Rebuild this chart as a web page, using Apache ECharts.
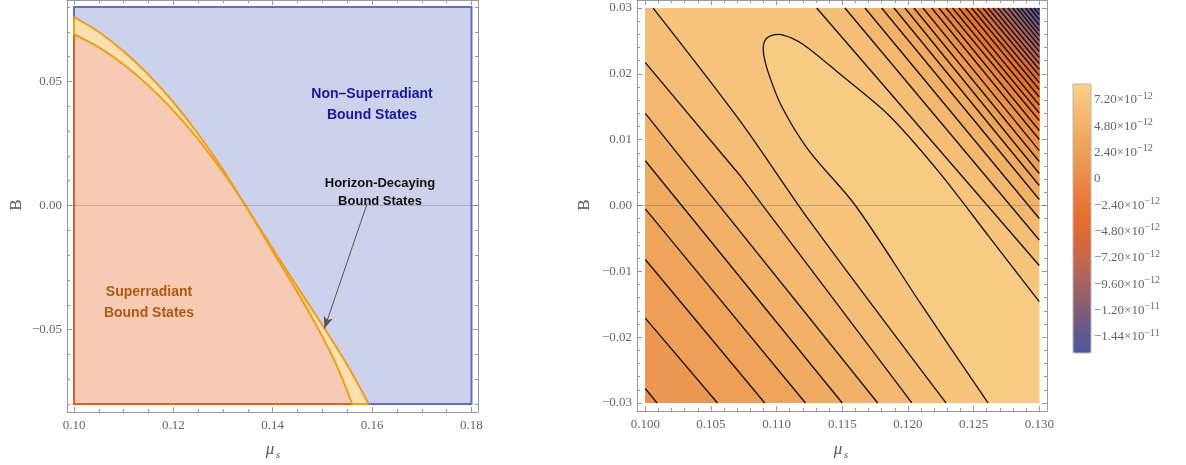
<!DOCTYPE html>
<html>
<head>
<meta charset="utf-8">
<script src="https://cdn.jsdelivr.net/npm/echarts@6/dist/echarts.min.js"></script>
<style>
html, body { margin: 0; padding: 0; background: #fff; }
#main { width: 1186px; height: 465px; }
</style>
</head>
<body>
<div id="main"></div>
<script>
// ---------- left panel : regions in the (mu_s, B) plane ----------
var regionX = [0.10, 0.18];
var regionY = [-0.08, 0.08];
// boundary of the horizon-decaying band (outer) and of the superradiant region (inner)
var outerCurve = [[0.100, 0.0760], [0.105, 0.0699], [0.110, 0.0621], [0.115, 0.0527], [0.120, 0.0416],
  [0.125, 0.0288], [0.130, 0.0144], [0.1345, 0.0], [0.1405, -0.0190], [0.1460, -0.0360],
  [0.1512, -0.0520], [0.1555, -0.0660], [0.1593, -0.0800]];
var innerCurve = [[0.100, 0.0690], [0.105, 0.0637], [0.110, 0.0568], [0.115, 0.0483], [0.120, 0.0382],
  [0.125, 0.0266], [0.130, 0.0133], [0.1345, 0.0], [0.1400, -0.0185], [0.1450, -0.0350],
  [0.1495, -0.0510], [0.1530, -0.0650], [0.1560, -0.0800]];
var arrowFrom = [0.1590, 0.0008];
var arrowTo = [0.1504, -0.0496];

var leftXTicks = [0.10, 0.12, 0.14, 0.16, 0.18];
var leftYTicks = [-0.05, 0.00, 0.05];

// ---------- right panel : contour plot ----------
var plotX = [0.100, 0.130];
var plotY = [-0.030, 0.030];
// the U shaped contour around the maximum
var uContour = [[0.1261, -0.030], [0.1210, -0.0150], [0.1160, 0.0], [0.1124, 0.0085], [0.1104, 0.0150],
  [0.1094, 0.0200], [0.1090, 0.0232], [0.1091, 0.0250], [0.1096, 0.0258], [0.1105, 0.0259],
  [0.1120, 0.0245], [0.1148, 0.0200], [0.1186, 0.0136], [0.1224, 0.0050], [0.1262, -0.0048],
  [0.1300, -0.0146]];
// contours on the lower-left side, from the ridge outwards
var lowerContours = [
  [[0.1006, 0.030], [0.1072, 0.0129], [0.1125, -0.0023], [0.1229, -0.030]],
  [[0.100, 0.0217], [0.1072, 0.0046], [0.1203, -0.030]],
  [[0.100, 0.0140], [0.1177, -0.030]],
  [[0.100, 0.0068], [0.1150, -0.030]],
  [[0.100, -0.0005], [0.1122, -0.030]],
  [[0.100, -0.0082], [0.1091, -0.030]],
  [[0.100, -0.0171], [0.1055, -0.030]],
  [[0.100, -0.0278], [0.1009, -0.030]]
];
// contours on the upper-right side: where they cut the top edge and the right edge
var upperTopX = [0.11305, 0.11520, 0.11673, 0.11800, 0.11894, 0.11977, 0.12046, 0.12114, 0.12181, 0.12236,
  0.12290, 0.12340, 0.12388, 0.12440, 0.12485, 0.12526, 0.12571, 0.12609, 0.12647, 0.12685,
  0.12723, 0.12761, 0.12797, 0.12830, 0.12860, 0.12896, 0.12929, 0.12960, 0.12990];
var upperRightB = [-0.00911, -0.00524, -0.00197, 0.00091, 0.00304, 0.00486, 0.00668, 0.00835, 0.01003, 0.01139,
  0.01291, 0.01405, 0.01527, 0.01648, 0.01762, 0.01868, 0.01975, 0.02066, 0.02157, 0.02248,
  0.02339, 0.02423, 0.02506, 0.02582, 0.02658, 0.02742, 0.02825, 0.02901, 0.02977];

// band values, in units of 1e-12
var baseBand = 7.2;
var uBand = 8.0;
var lowerBands = [6.4, 5.6, 4.8, 4.0, 3.2, 2.4, 1.6, 0.8];
var upperBands = [6.4, 5.6, 4.8, 4.0, 3.2, 2.4, 1.6, 0.8, 0.0, -0.8, -1.6, -2.4, -3.2, -4.0, -4.8,
  -5.6, -6.4, -7.2, -8.0, -8.8, -9.6, -10.4, -11.2, -12.0, -12.8, -13.6, -14.4, -15.2, -15.8];

var rightXTicks = [0.100, 0.105, 0.110, 0.115, 0.120, 0.125, 0.130];
var rightYTicks = [-0.03, -0.02, -0.01, 0.00, 0.01, 0.02, 0.03];

// colour legend (units of 1e-12)
var legendRange = [-15.86, 8.66];
var legendTicks = [7.2, 4.8, 2.4, 0, -2.4, -4.8, -7.2, -9.6, -12, -14.4];
var legendColors = ['#4a58a0', '#6a5a84', '#8f606a', '#b5655a', '#d4683c', '#e46f2f',
  '#ea8040', '#ed9650', '#f0a860', '#f4bc74', '#f8d088'];

// ------------------------------------------------------------------
var FRAME = '#9a9a9a';
var TICKTXT = '#666';
var ORANGE = '#ee9e1c';

function minorsOf(from, to, step, majors) {
  var out = [];
  var n = Math.round((to - from) / step);
  for (var i = 0; i <= n; i++) {
    var v = +(from + i * step).toFixed(6);
    var isMajor = majors.some(function (m) { return Math.abs(m - v) < 1e-9; });
    if (!isMajor) out.push(v);
  }
  return out;
}

function minusFmt(d) {
  return function (v) { return v.toFixed(d).replace('-', '\u2212'); };
}

function frameAxes(grid, isX, min, max, majors, minors, fmt) {
  var sides = isX ? ['bottom', 'top'] : ['left', 'right'];
  function ax(side, list, len, line, labels) {
    return {
      type: 'value', gridIndex: grid, min: min, max: max, position: side,
      axisLine: { show: line, onZero: false, lineStyle: { color: FRAME, width: 1 } },
      axisTick: { show: true, inside: true, length: len, customValues: list, lineStyle: { color: FRAME, width: 1 } },
      axisLabel: labels ? {
        show: true, customValues: list, formatter: fmt, margin: isX ? 7 : 5,
        color: TICKTXT, fontFamily: 'Liberation Serif', fontSize: 13
      } : { show: false },
      splitLine: { show: false }
    };
  }
  return [
    ax(sides[0], majors, 5, true, true),
    ax(sides[0], minors, 3, false, false),
    ax(sides[1], majors, 5, true, false),
    ax(sides[1], minors, 3, false, false)
  ];
}

// perimeter walk so a contour line can be closed into the region on one side of it
function perim(p) {
  var x = p[0], y = p[1], e = 1e-9;
  if (Math.abs(y - plotY[1]) < e) return (x - plotX[0]) / (plotX[1] - plotX[0]);
  if (Math.abs(x - plotX[1]) < e) return 1 + (plotY[1] - y) / (plotY[1] - plotY[0]);
  if (Math.abs(y - plotY[0]) < e) return 2 + (plotX[1] - x) / (plotX[1] - plotX[0]);
  return 3 + (y - plotY[0]) / (plotY[1] - plotY[0]);
}
var cornerAt = [[plotX[0], plotY[1]], [plotX[1], plotY[1]], [plotX[1], plotY[0]], [plotX[0], plotY[0]]];
function closeRegion(pts, clockwise) {
  var out = pts.slice();
  var tE = perim(pts[pts.length - 1]), tS = perim(pts[0]), c;
  if (clockwise) {
    if (tS <= tE) tS += 4;
    for (c = Math.floor(tE) + 1; c < tS; c++) out.push(cornerAt[c % 4]);
  } else {
    if (tS >= tE) tS -= 4;
    for (c = Math.ceil(tE) - 1; c > tS; c--) out.push(cornerAt[((c % 4) + 4) % 4]);
  }
  return out;
}

var upperContours = upperTopX.map(function (x, i) { return [[x, plotY[1]], [plotX[1], upperRightB[i]]]; });

var regions = [];
regions.push({ pts: [[plotX[0], plotY[0]], [plotX[1], plotY[0]], [plotX[1], plotY[1]], [plotX[0], plotY[1]]], v: baseBand });
regions.push({ pts: closeRegion(uContour, true), v: uBand });
lowerContours.forEach(function (l, i) { regions.push({ pts: closeRegion(l, true), v: lowerBands[i] }); });
upperContours.forEach(function (l, i) { regions.push({ pts: closeRegion(l, false), v: upperBands[i] }); });

var allContours = [uContour].concat(lowerContours).concat(upperContours);

// ------------------------------------------------------------------
var chart = echarts.init(document.getElementById('main'));

var xAxes = []
  .concat(frameAxes(0, true, 0.09859, 0.18131, leftXTicks, minorsOf(0.10, 0.18, 0.005, leftXTicks), minusFmt(2)))
  .concat(frameAxes(1, true, 0.09937, 0.13059, rightXTicks, minorsOf(0.100, 0.130, 0.001, rightXTicks), minusFmt(3)))
  .concat([{ type: 'value', gridIndex: 2, show: false, min: 0, max: 1 }]);
var yAxes = []
  .concat(frameAxes(0, false, -0.0832, 0.0828, leftYTicks, minorsOf(-0.08, 0.08, 0.01, leftYTicks), minusFmt(2)))
  .concat(frameAxes(1, false, -0.03122, 0.03122, rightYTicks, minorsOf(-0.030, 0.030, 0.002, rightYTicks), minusFmt(2)))
  .concat([{
    type: 'value', gridIndex: 2, min: legendRange[0], max: legendRange[1], position: 'right',
    axisLine: { show: false },
    axisTick: { show: true, inside: false, length: 4, customValues: legendTicks, lineStyle: { color: FRAME } },
    axisLabel: {
      show: true, customValues: legendTicks, margin: 3,
      formatter: function (v) {
        if (Math.abs(v) < 1e-9) return '{a|0}';
        var parts = (v * 1e-12).toExponential(2).split('e');
        return '{a|' + parts[0].replace('-', '\u2212') + '\u00d710}{b|' + parts[1].replace('-', '\u2212').replace('+', '') + '}';
      },
      rich: {
        a: { fontFamily: 'Liberation Serif', fontSize: 13, color: TICKTXT },
        b: { fontFamily: 'Liberation Serif', fontSize: 10, color: TICKTXT, padding: [0, 0, 8, 0] }
      }
    },
    splitLine: { show: false }
  }]);

var option = {
  animation: false,
  backgroundColor: '#fff',
  grid: [
    { left: 67, top: -1, width: 411, height: 413 },
    { left: 637, top: 0, width: 410, height: 411 },
    { left: 1073, top: 84, width: 18, height: 269 }
  ],
  xAxis: xAxes,
  yAxis: yAxes,
  visualMap: {
    type: 'continuous', seriesIndex: [2], dimension: 0,
    min: legendRange[0], max: legendRange[1],
    left: 1073, top: 84, itemWidth: 18, itemHeight: 269, padding: 0,
    calculable: false, hoverLink: false,
    inRange: { color: legendColors }
  },
  series: [
    {
      type: 'custom', xAxisIndex: 0, yAxisIndex: 0, clip: true, silent: true,
      data: [[0, 0]],
      renderItem: function (params, api) {
        function P(pts) { return pts.map(function (p) { return api.coord(p); }); }
        var box = [[regionX[0], regionY[0]], [regionX[1], regionY[0]], [regionX[1], regionY[1]], [regionX[0], regionY[1]]];
        var low = [regionX[0], regionY[0]];
        var yellow = [low].concat(outerCurve);
        var pink = [low].concat(innerCurve);
        var yellowEdge = [outerCurve[outerCurve.length - 1], low, outerCurve[0]];
        var pinkEdge = [innerCurve[innerCurve.length - 1], low, innerCurve[0]];
        return {
          type: 'group',
          children: [
            { type: 'polygon', shape: { points: P(box) }, style: { fill: '#cdd2ec', stroke: '#5d6fc7', lineWidth: 2 } },
            { type: 'polygon', shape: { points: P(yellow) }, style: { fill: '#fbe0af' } },
            { type: 'polyline', shape: { points: P(yellowEdge) }, style: { fill: null, stroke: ORANGE, lineWidth: 2 } },
            { type: 'polygon', shape: { points: P(pink) }, style: { fill: '#f7cbb3' } },
            { type: 'polyline', shape: { points: P(pinkEdge) }, style: { fill: null, stroke: '#e4611e', lineWidth: 2 } },
            { type: 'polyline', shape: { points: P(outerCurve), smooth: 0.3 }, style: { fill: null, stroke: ORANGE, lineWidth: 2 } },
            { type: 'polyline', shape: { points: P(innerCurve), smooth: 0.3 }, style: { fill: null, stroke: ORANGE, lineWidth: 2 } }
          ]
        };
      }
    },
    {
      type: 'line', xAxisIndex: 0, yAxisIndex: 0, data: [], silent: true,
      markLine: {
        silent: true, symbol: ['none', 'none'], label: { show: false },
        lineStyle: { color: 'rgba(70,70,70,0.25)', width: 1, type: 'solid' },
        data: [{ yAxis: 0 }]
      }
    },
    {
      type: 'custom', xAxisIndex: 4, yAxisIndex: 4, clip: true, silent: true,
      data: regions.map(function (r, i) { return [r.v, i]; }),
      renderItem: function (params, api) {
        var r = regions[params.dataIndex];
        return {
          type: 'polygon',
          shape: { points: r.pts.map(function (p) { return api.coord(p); }) },
          style: { fill: api.visual('color') }
        };
      }
    },
    {
      type: 'custom', xAxisIndex: 4, yAxisIndex: 4, clip: true, silent: true,
      data: allContours.map(function (c, i) { return [i, i]; }),
      renderItem: function (params, api) {
        var c = allContours[params.dataIndex];
        return {
          type: 'polyline',
          shape: { points: c.map(function (p) { return api.coord(p); }), smooth: c.length > 3 ? 0.3 : 0 },
          style: { fill: null, stroke: '#111', lineWidth: 1.3 }
        };
      },
      markLine: {
        silent: true, symbol: ['none', 'none'], label: { show: false },
        lineStyle: { color: 'rgba(90,80,70,0.3)', width: 1, type: 'solid' },
        data: [{ yAxis: 0 }]
      }
    },
    {
      type: 'line', xAxisIndex: 0, yAxisIndex: 0, data: [], silent: true,
      markLine: {
        silent: true, symbol: ['none', 'arrow'], symbolSize: [7, 12], label: { show: false },
        lineStyle: { color: '#555', width: 1, type: 'solid' },
        data: [[{ coord: arrowFrom }, { coord: arrowTo }]]
      }
    }
  ],
  graphic: [
    { type: 'rect', z: 100, shape: { x: 1073, y: 84, width: 18, height: 269 }, style: { fill: null, stroke: '#b8b8b8', lineWidth: 1 } },
    { type: 'text', z: 100, x: 17, y: 205, rotation: Math.PI / 2, style: { text: 'B', font: '17px "Liberation Serif"', fill: '#555', align: 'center', verticalAlign: 'middle' } },
    { type: 'text', z: 100, x: 585, y: 205, rotation: Math.PI / 2, style: { text: 'B', font: '17px "Liberation Serif"', fill: '#555', align: 'center', verticalAlign: 'middle' } },
    { type: 'text', z: 100, x: 270, y: 450, style: { text: '\u03bc', font: 'italic 17px "Liberation Serif"', fill: '#555', align: 'center', verticalAlign: 'middle' } },
    { type: 'text', z: 100, x: 278, y: 455, style: { text: 's', font: 'italic 11px "Liberation Serif"', fill: '#555', align: 'center', verticalAlign: 'middle' } },
    { type: 'text', z: 100, x: 838, y: 450, style: { text: '\u03bc', font: 'italic 17px "Liberation Serif"', fill: '#555', align: 'center', verticalAlign: 'middle' } },
    { type: 'text', z: 100, x: 846, y: 455, style: { text: 's', font: 'italic 11px "Liberation Serif"', fill: '#555', align: 'center', verticalAlign: 'middle' } },
    { type: 'text', z: 100, x: 372, y: 105, style: { text: 'Non\u2013Superradiant\nBound States', font: 'bold 14px "Liberation Sans"', lineHeight: 21, fill: '#16199b', align: 'center', verticalAlign: 'middle' } },
    { type: 'text', z: 100, x: 380, y: 192, style: { text: 'Horizon-Decaying\nBound States', font: 'bold 13px "Liberation Sans"', lineHeight: 18, fill: '#111', align: 'center', verticalAlign: 'middle' } },
    { type: 'text', z: 100, x: 149, y: 303, style: { text: 'Superradiant\nBound States', font: 'bold 14px "Liberation Sans"', lineHeight: 21, fill: '#ad5a14', align: 'center', verticalAlign: 'middle' } }
  ]
};

chart.setOption(option);
</script>
</body>
</html>
